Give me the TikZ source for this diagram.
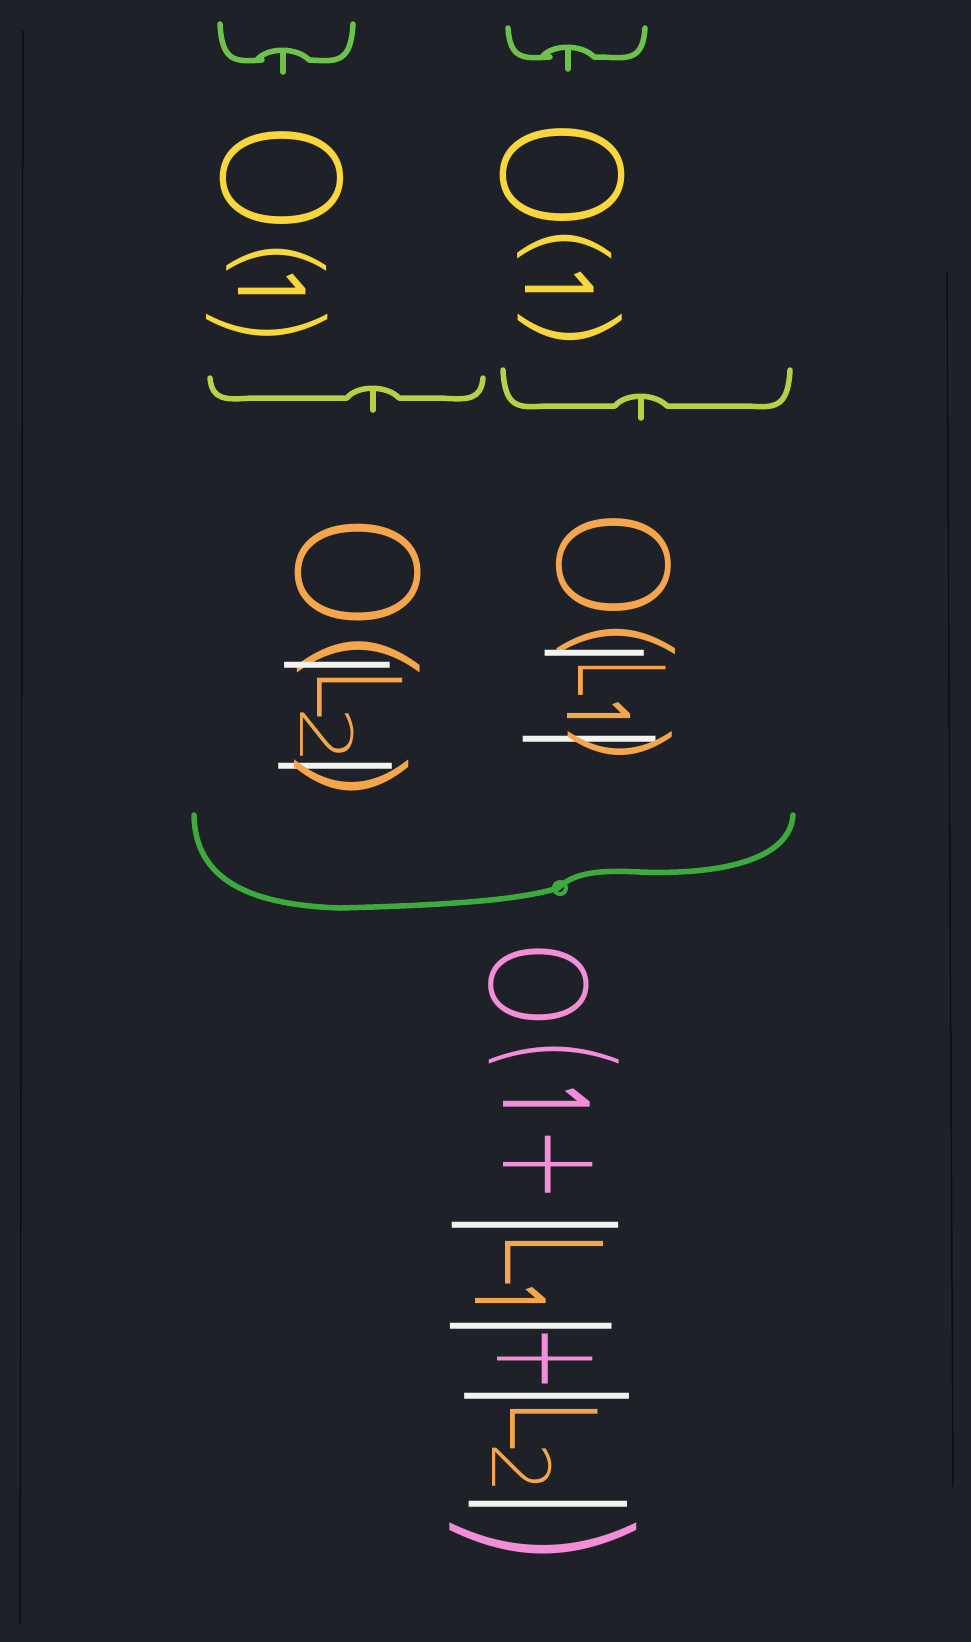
\documentclass[tikz,border=0pt]{standalone}
\usepackage{fontspec}
\IfFontExistsTF{DejaVuSans-ExtraLight.ttf}{\setmainfont{DejaVuSans-ExtraLight.ttf}}{%
  \IfFontExistsTF{DejaVu Sans ExtraLight}{\setmainfont{DejaVu Sans ExtraLight}}{%
    \IfFontExistsTF{Fira Sans Light}{\setmainfont{Fira Sans Light}}{\setmainfont{Fira Sans}}}}
\newfontfamily\figfont{Fira Sans}
\usepackage{graphicx}
\definecolor{bgc}{HTML}{1E2228}
\definecolor{edgec}{HTML}{0B0D10}
\definecolor{topgreen}{HTML}{6CC24A}
\definecolor{ygreen}{HTML}{B8CF47}
\definecolor{biggreen}{HTML}{3DAA3D}
\definecolor{yel}{HTML}{F8D63E}
\definecolor{orng}{HTML}{F5A64C}
\definecolor{barw}{HTML}{F3F3EF}
\definecolor{pinkc}{HTML}{F28ED8}
% one glyph centred on the current point: along-scale, across-scale, raise, colour, glyph
\newcommand\G[5]{\makebox[0pt][c]{\raisebox{#3pt}{\scalebox{#1}[#2]{\textcolor{#4}{#5}}}}}
\newcommand\K[1]{\kern#1pt\relax}
\newcommand\one{{\figfont 1}}
\newcommand\mybrace[6]{%
  \draw[bracestyle,#6] (#1,#4) .. controls ({#1+2},{#5+2}) and ({#1+15},{#5+2}) .. ({#1+42},#5)
    -- ({#3-26},#5) .. controls ({#3-16},{#5-13}) and ({#3+14},{#5-13}) .. ({#3+26},#5)
    -- ({#2-42},#5) .. controls ({#2-15},{#5+2}) and ({#2-2},{#5+2}) .. (#2,#4);
  \draw[bracestyle,#6] (#3,{#5-9}) -- (#3,{#5+12});}
\begin{document}
\begin{tikzpicture}[x=1pt,y=-1pt,
  expr/.style={rotate=-90, inner sep=0pt, anchor=base, font=\fontsize{160}{160}\selectfont},
  bracestyle/.style={line width=5.5pt, line cap=round, line join=round},
  edgeline/.style={draw=edgec, line width=1.5pt}]
\fill[bgc] (0,0) rectangle (971,1642);
\useasboundingbox (0,0) rectangle (971,1642);
% faint page edges
\draw[edgeline] (23,31) -- (20,1624);
\draw[edgeline] (947,272) -- (953,1487);
% top braces
\mybrace{220}{353}{283}{24}{60}{topgreen}
\mybrace{508}{645}{568}{28}{57}{topgreen}
% O(1) terms
\node[expr] (o1a) at (222,233.5) {\K{48}\G{0.93}{1.02}{0}{yel}{O}\K{82}\G{0.78}{0.70}{19}{yel}{(}\K{27}\G{0.45}{0.63}{16}{yel}{\one}\K{38}\G{0.78}{0.85}{2}{yel}{)}\K{12}};
\node[expr] (o1b) at (502,234.5) {\K{48}\G{0.93}{1.03}{0}{yel}{O}\K{72}\G{0.84}{0.66}{29}{yel}{(}\K{38}\G{0.45}{0.64}{23}{yel}{\one}\K{42}\G{0.94}{0.73}{31}{yel}{)}\K{15}};
% middle braces
\mybrace{210}{483}{373}{378}{398}{ygreen}
\mybrace{503}{790}{641}{370}{406}{ygreen}
% O(|L2|) and O(|L1|)
\node[expr] (ol2) at (297,658) {\K{50}\G{0.97}{1.04}{0}{orng}{O}\K{84}\G{1.1}{0.86}{18}{orng}{(}\K{8}\G{0.8}{0.66}{12}{barw}{|}\K{28}\G{0.6}{0.73}{20}{orng}{L}\K{43}\G{0.58}{0.45}{3}{orng}{2}\K{30}\G{0.8}{0.71}{8}{barw}{|}\K{9}\G{1.1}{0.8}{14}{orng}{)}\K{18}};
\node[expr] (ol1) at (558,637) {\K{48}\G{0.93}{0.95}{0}{orng}{O}\K{77}\G{0.9}{0.83}{16}{orng}{(}\K{11}\G{0.8}{0.62}{10}{barw}{|}\K{25}\G{0.45}{0.75}{20}{orng}{L}\K{35}\G{0.35}{0.59}{9}{orng}{\one}\K{26}\G{0.8}{0.83}{-4}{barw}{|}\K{4}\G{0.85}{0.73}{25}{orng}{)}\K{14}};
% big brace
\draw[bracestyle, biggreen] (194,815) .. controls (195,880) and (250,905) .. (340,908)
  .. controls (450,905) and (520,900) .. (558,888)
  .. controls (575,872) and (600,870) .. (640,872)
  .. controls (720,875) and (790,860) .. (793,815);
\draw[biggreen, line width=4pt] (560,888) circle (6);
% total
\node[expr] (tot) at (490,1249) {\K{37}\G{0.72}{0.83}{0}{pinkc}{O}\K{70}\G{0.6}{0.91}{18}{pinkc}{(}\K{45}\G{0.4}{0.81}{13}{pinkc}{\one}\K{65}\G{0.57}{0.89}{13}{pinkc}{+}\K{60}\G{0.8}{1.04}{1}{barw}{|}\K{33}\G{0.66}{0.84}{15}{orng}{L}\K{40}\G{0.35}{0.66}{-15}{orng}{\one}\K{28}\G{0.8}{1.01}{-2}{barw}{|}\K{33}\G{0.5}{0.95}{7}{pinkc}{+}\K{37}\G{0.8}{1.03}{13}{barw}{|}\K{29}\G{0.61}{0.75}{20}{orng}{L}\K{43}\G{0.51}{0.5}{2}{orng}{2}\K{36}\G{0.8}{0.99}{16}{barw}{|}\K{34}\G{1.1}{1.31}{-13}{pinkc}{)}\K{12}};
\end{tikzpicture}
\end{document}
